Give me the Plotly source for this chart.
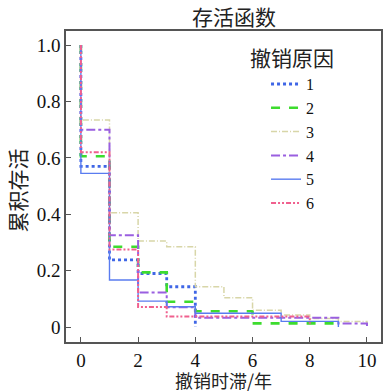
import plotly.graph_objects as go

# Data
names = ["1", "2", "3", "4", "5", "6"]
x1 = [0, 0, 1, 2, 3, 4]
y1 = [1.0, 0.57, 0.238, 0.19, 0.143, 0.0]
x2 = [0, 0, 1, 2, 3, 4, 6, 9]
y2 = [1.0, 0.606, 0.285, 0.194, 0.09, 0.056, 0.013, 0.0]
x3 = [0, 0, 1, 2, 3, 4, 5, 6, 7, 8, 9, 10]
y3 = [1.0, 0.734, 0.405, 0.305, 0.285, 0.143, 0.104, 0.06, 0.043, 0.03, 0.02, 0.003]
x4 = [0, 0, 1, 2, 3, 4, 9, 10]
y4 = [1.0, 0.70, 0.326, 0.123, 0.07, 0.033, 0.013, 0.0]
x5 = [0, 0, 1, 2, 3, 4, 7, 9]
y5 = [1.0, 0.545, 0.167, 0.092, 0.072, 0.049, 0.02, 0.0]
x6 = [0, 0, 1, 2, 3, 8]
y6 = [1.0, 0.62, 0.275, 0.071, 0.037, 0.012]

xs = [x1, x2, x3, x4, x5, x6]
ys = [y1, y2, y3, y4, y5, y6]
colors = ["#3f66e6", "#3ddc2e", "#d8d6a8", "#9a5fe0", "#5a7cf0", "#f0608e"]
dashes = ["dot", "dash", "6px,2px,1px,2px", "dashdot", "solid", "5px,2px,2px,2px,2px,2px"]
widths = [2.8, 2.6, 1.5, 2.0, 1.4, 2.0]

xtick_vals = [0, 2, 4, 6, 8, 10]
ytick_vals = [0, 0.2, 0.4, 0.6, 0.8, 1.0]
ytick_text = ["0", "0.2", "0.4", "0.6", "0.8", "1.0"]

title_text = "存活函数"
xtitle_text = "撤销时滞/年"
ytitle_text = "累积存活"
legend_title = "撤销原因"

fig = go.Figure()
for n, x, y, c, d, w in zip(names, xs, ys, colors, dashes, widths):
    fig.add_trace(go.Scatter(x=x, y=y, name=n, mode="lines",
                             line=dict(shape="hv", color=c, dash=d, width=w)))

serif = "Liberation Serif, DejaVu Serif, serif"
cjk = "Noto Sans CJK SC"
axis_common = dict(showline=True, linecolor="#555", linewidth=1.5, mirror=True,
                   ticks="inside", ticklen=5, tickcolor="#555", showgrid=False,
                   zeroline=False, automargin=False,
                   tickfont=dict(family=serif, size=19, color="#111"))

fig.update_layout(
    width=387, height=392,
    margin=dict(l=66, r=6, t=31, b=50, autoexpand=False),
    paper_bgcolor="white", plot_bgcolor="white",
    xaxis=dict(range=[-0.52, 10.49], tickvals=xtick_vals, **axis_common),
    yaxis=dict(range=[-0.053, 1.05], tickvals=ytick_vals, ticktext=ytick_text, **axis_common),
    legend=dict(x=0.635, xanchor="left", y=0.884, yanchor="top",
                bgcolor="rgba(0,0,0,0)",
                font=dict(family=serif, size=16, color="#111"),
                itemwidth=30, tracegroupgap=0),
    showlegend=True,
    annotations=[
        dict(text=title_text, xref="paper", yref="paper", x=0.5, y=1, yshift=15, xshift=10,
             xanchor="center", yanchor="middle", showarrow=False,
             font=dict(family=cjk, size=21, color="#222")),
        dict(text=xtitle_text, xref="paper", yref="paper", x=0.5, y=0, yshift=-38,
             xanchor="center", yanchor="middle", showarrow=False,
             font=dict(family=cjk, size=18, color="#222")),
        dict(text=ytitle_text, xref="paper", yref="paper", x=0, y=0.5, xshift=-50, yshift=-4,
             xanchor="center", yanchor="middle", showarrow=False, textangle=-90,
             font=dict(family=cjk, size=21, color="#222")),
        dict(text=legend_title, xref="paper", yref="paper", x=0.717, y=0.916,
             xanchor="center", yanchor="middle", showarrow=False,
             font=dict(family=cjk, size=21, color="#222")),
    ],
)

fig.write_html("out.html", config={"displayModeBar": False},
               post_script="document.body.style.margin='0';document.body.style.padding='0';")
